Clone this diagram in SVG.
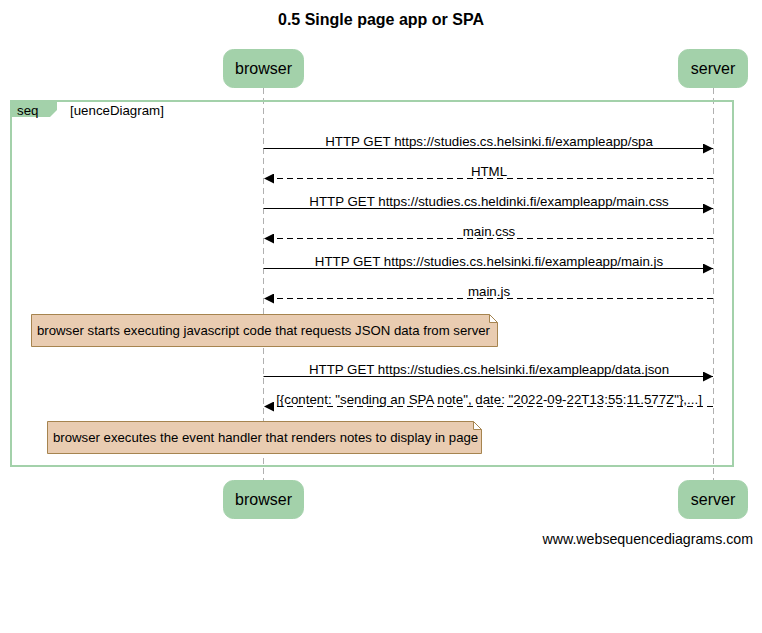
<svg xmlns="http://www.w3.org/2000/svg" width="762" height="633" viewBox="0 0 762 633">
<style>
text{font-family:"Liberation Sans",Arial,sans-serif;fill:#000}
.title{font-size:16px;font-weight:bold}
.part rect{fill:#a3d1aa;stroke:#a3d1aa}
.part text{font-size:16px}
.life{stroke:#b0b0b0;stroke-width:1;stroke-dasharray:6,4}
.msg{font-size:13.3px}
.solid{stroke:#000;stroke-width:1;fill:none}
.dash{stroke:#000;stroke-width:1;fill:none;stroke-dasharray:6,4}
.note path{fill:#e9ccb1;stroke:#a6844f;stroke-width:1}
.note text{font-size:13.2px}
</style>
<defs>
<marker id="ah" markerWidth="10" markerHeight="10" refX="10" refY="5" orient="auto" markerUnits="userSpaceOnUse">
<path d="M0,0 L10,5 L0,10 Z" fill="#000"/>
</marker>
</defs>
<rect width="762" height="633" fill="#fff"/>
<text class="title" x="381" y="25" text-anchor="middle">0.5 Single page app or SPA</text>
<g id="lifelines">
<line class="life" x1="263.5" y1="88" x2="263.5" y2="480"/>
<line class="life" x1="713.5" y1="88" x2="713.5" y2="480"/>
</g>
<g id="frame">
<rect x="11" y="101" width="722" height="365" fill="none" stroke="#a3d1aa" stroke-width="2"/>
<path d="M11,101 H57 V110 L50,117 H11 Z" fill="#a3d1aa"/>
<text x="17" y="115" font-size="13.3">seq</text>
<text x="70" y="115" font-size="13.3">[uenceDiagram]</text>
</g>
<g id="participant-browser-top" class="part">
<rect x="223.5" y="49.5" width="80" height="38" rx="10"/>
<text x="263.5" y="74" text-anchor="middle">browser</text>
</g>
<g id="participant-server-top" class="part">
<rect x="678.5" y="49.5" width="69" height="38" rx="10"/>
<text x="713" y="74" text-anchor="middle">server</text>
</g>
<g id="participant-browser-bottom" class="part">
<rect x="223.5" y="480.5" width="80" height="38" rx="10"/>
<text x="263.5" y="505" text-anchor="middle">browser</text>
</g>
<g id="participant-server-bottom" class="part">
<rect x="678.5" y="480.5" width="69" height="38" rx="10"/>
<text x="713" y="505" text-anchor="middle">server</text>
</g>
<g id="connectors">
<line class="solid" x1="263.5" y1="148.5" x2="713" y2="148.5" marker-end="url(#ah)"/>
<text class="msg" x="489" y="146" text-anchor="middle">HTTP GET https://studies.cs.helsinki.fi/exampleapp/spa</text>
<line class="dash" x1="713" y1="178.5" x2="264" y2="178.5" marker-end="url(#ah)"/>
<text class="msg" x="489" y="176" text-anchor="middle">HTML</text>
<line class="solid" x1="263.5" y1="208.5" x2="713" y2="208.5" marker-end="url(#ah)"/>
<text class="msg" x="489" y="206" text-anchor="middle">HTTP GET https://studies.cs.heldinki.fi/exampleapp/main.css</text>
<line class="dash" x1="713" y1="238.5" x2="264" y2="238.5" marker-end="url(#ah)"/>
<text class="msg" x="489" y="236" text-anchor="middle">main.css</text>
<line class="solid" x1="263.5" y1="268.5" x2="713" y2="268.5" marker-end="url(#ah)"/>
<text class="msg" x="489" y="266" text-anchor="middle">HTTP GET https://studies.cs.helsinki.fi/exampleapp/main.js</text>
<line class="dash" x1="713" y1="298.5" x2="264" y2="298.5" marker-end="url(#ah)"/>
<text class="msg" x="489" y="296" text-anchor="middle">main.js</text>
<line class="solid" x1="263.5" y1="376.5" x2="713" y2="376.5" marker-end="url(#ah)"/>
<text class="msg" x="489" y="374" text-anchor="middle">HTTP GET https://studies.cs.helsinki.fi/exampleapp/data.json</text>
<line class="dash" x1="713" y1="406.5" x2="264" y2="406.5" marker-end="url(#ah)"/>
<text class="msg" x="489" y="404" text-anchor="middle">[{content: "sending an SPA note", date: "2022-09-22T13:55:11.577Z"},...]</text>
</g>
<g id="note-1" class="note">
<path d="M31.5,314.5 H489.5 L497.5,322.5 V346.5 H31.5 Z M489.5,314.5 V322.5 H497.5"/>
<text x="37" y="335">browser starts executing javascript code that requests JSON data from server</text>
</g>
<g id="note-2" class="note">
<path d="M47.5,421.5 H473.5 L481.5,429.5 V453.5 H47.5 Z M473.5,421.5 V429.5 H481.5"/>
<text x="53" y="442">browser executes the event handler that renders notes to display in page</text>
</g>
<text x="753" y="544" font-size="14.2" text-anchor="end">www.websequencediagrams.com</text>
</svg>
